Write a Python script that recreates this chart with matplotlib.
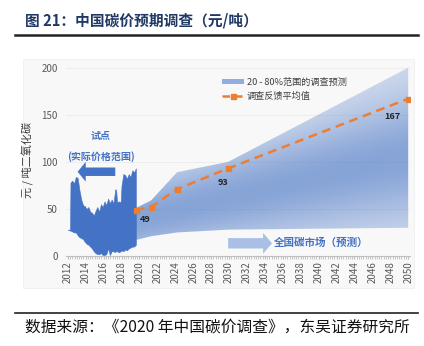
import matplotlib.pyplot as plt
import numpy as np
from matplotlib.patches import Rectangle, Patch, FancyArrow
from matplotlib.lines import Line2D

plt.rcParams['font.family'] = ['Noto Sans CJK SC', 'DejaVu Sans']

# 试点碳市场价格范围（上沿 / 下沿）
pilot_years = [2012.0, 2012.25, 2012.3, 2012.5, 2012.7, 2012.9, 2013.1, 2013.3, 2013.5, 2013.7,
               2013.9, 2014.1, 2014.3, 2014.5, 2014.7, 2014.9, 2015.1, 2015.3, 2015.5, 2015.7,
               2015.9, 2016.1, 2016.3, 2016.5, 2016.7, 2016.9, 2017.1, 2017.3, 2017.4, 2017.5,
               2017.7, 2017.9, 2018.0, 2018.2, 2018.4, 2018.6, 2018.8, 2019.0, 2019.2, 2019.4, 2019.6]
pilot_high = [28, 28, 78, 80, 77, 84, 83, 70, 60, 54,
              53, 50, 52, 47, 46, 43, 48, 52, 47, 55,
              52, 58, 54, 61, 56, 60, 56, 71, 70, 57,
              58, 57, 75, 87, 86, 82, 87, 84, 91, 89, 93]
pilot_low = [28, 27, 27, 26, 25, 25, 22, 20, 19, 18,
             15, 13, 12, 10, 8, 5, 3, 2, 2, 3,
             1, 1, 2, 8, 1, 5, 5, 4, 6, 5,
             4, 5, 6, 5, 7, 6, 8, 9, 10, 10, 12]

# 全国碳市场调查预测
fc_years = [2019.6, 2021.3, 2024.2, 2029.9, 2050.0]
fc_upper = [51, 59, 89, 100, 200]
fc_lower = [17, 21, 25, 28, 30]
fc_mean = [49, 52, 71, 93, 167]

# 标注的平均值及其位置
label_years = [2020.6, 2029.3, 2048.2]
label_y = [39, 78, 148]
label_vals = [49, 93, 167]

blue = '#4472c4'
orange = '#ed7d31'

W, H = 424, 346
fig = plt.figure(figsize=(W / 100, H / 100), dpi=100)

def fx(px):
    return px / W

def fy(py):
    return 1 - py / H

# 图表底板
fig.patches.append(Rectangle((fx(23), fy(288)), fx(414) - fx(23), fy(59) - fy(288),
                             transform=fig.transFigure, fc='#f8f8f8', ec='#eeeeee', lw=0.6,
                             zorder=-10))

ax = fig.add_axes([fx(66), fy(256), fx(410) - fx(66), fy(63) - fy(256)])
ax.set_facecolor('none')
ax.set_xlim(2011.8, 2050.2)
ax.set_ylim(0, 205)

# 预测区间（斜向渐变填充）
band = ax.fill_between(fc_years, fc_lower, fc_upper, color='none', lw=0)
gx = np.linspace(2019, 2051, 240)
gy = np.linspace(0, 205, 240)
GX, GY = np.meshgrid(gx, gy)
center = 40 + (GX - 2020) * 2.2
width = 38 + (GX - 2020) * 0.9
alpha = 0.2 + 0.43 * np.exp(-((GY - center) / width) ** 2)
rgba = np.zeros(GX.shape + (4,))
rgba[..., 0] = 0x44 / 255
rgba[..., 1] = 0x72 / 255
rgba[..., 2] = 0xc4 / 255
rgba[..., 3] = alpha
img = ax.imshow(rgba, extent=[2019, 2051, 0, 205], origin='lower', aspect='auto',
                interpolation='bilinear', zorder=1)
img.set_clip_path(band.get_paths()[0], transform=ax.transData)

# 试点价格范围
ax.fill_between(pilot_years, pilot_low, pilot_high, color=blue, lw=0.4, ec=blue, zorder=2)

# 平均值
ax.plot(fc_years, fc_mean, color=orange, lw=1.8, ls=(0, (3.5, 2.3)), marker='s',
        markersize=3.6, zorder=3)
for x, y, v in zip(label_years, label_y, label_vals):
    ax.text(x, y, str(v), fontsize=6.5, fontweight='bold', color='#222222',
            ha='center', va='center', zorder=4)

# 箭头与文字
ax.add_patch(FancyArrow(2017.3, 89.5, -4.2, 0, width=9, head_width=21, head_length=0.9,
                        length_includes_head=True, color=blue, lw=0, zorder=3))
ax.text(2015.7, 127, '试点', fontsize=7.2, fontweight='bold', color=blue, ha='center', va='center')
ax.text(2015.7, 106, '(实际价格范围)', fontsize=7.2, fontweight='bold', color=blue,
        ha='center', va='center')
ax.add_patch(FancyArrow(2029.9, 13.5, 4.9, 0, width=11, head_width=22, head_length=1.0,
                        length_includes_head=True, color='#a9bfe6', lw=0, zorder=3))
ax.text(2040.3, 13.5, '全国碳市场（预测）', fontsize=7.6, fontweight='bold', color=blue,
        ha='center', va='center')

# 坐标轴
for s in ['top', 'right', 'left']:
    ax.spines[s].set_visible(False)
ax.spines['bottom'].set_color('#bfbfbf')
ax.spines['bottom'].set_linewidth(0.8)
ax.set_xticks(np.arange(2012, 2051, 2))
ax.set_xticks(np.arange(2012, 2050.01, 0.25), minor=True)
ax.tick_params(axis='x', which='both', length=2, color='#bfbfbf', labelsize=7,
               labelcolor='#595959', rotation=90, pad=2)
ax.set_yticks([0, 50, 100, 150, 200])
ax.tick_params(axis='y', length=0, labelsize=7, labelcolor='#595959', pad=6)
ax.grid(axis='y', color='#ececec', lw=0.6)
ax.set_axisbelow(True)
ax.set_ylabel('元 / 吨二氧化碳', fontsize=8, color='#404040', labelpad=5)

# 图例
handles = [Patch(fc='#94ade0', ec='none'),
           Line2D([], [], color=orange, lw=1.8, ls=(0, (3, 2)), marker='s', markersize=3.6)]
ax.legend(handles, ['20 - 80%范围的调查预测', '调查反馈平均值'], loc='upper left',
          bbox_to_anchor=((222 - 66) / 344, (256 - 78) / 193), frameon=False, fontsize=6.6,
          labelcolor='#404040', handlelength=2.4, handleheight=0.45, handletextpad=0.3,
          labelspacing=0.55, borderaxespad=0, borderpad=0)

# 标题与来源
fig.text(fx(25), fy(20), '图 21：中国碳价预期调查（元/吨）', fontsize=10.6, fontweight='bold',
         color='#1f3864', ha='left', va='center')
fig.add_artist(Line2D([fx(15), fx(418)], [fy(35), fy(35)], color='#222222', lw=1.8))
fig.add_artist(Line2D([fx(15), fx(418)], [fy(313), fy(313)], color='#222222', lw=1.2))
fig.text(fx(25), fy(327), '数据来源：《2020 年中国碳价调查》，东吴证券研究所', fontsize=11.3,
         color='#111111', ha='left', va='center')

fig.savefig('out.png', dpi=100)
